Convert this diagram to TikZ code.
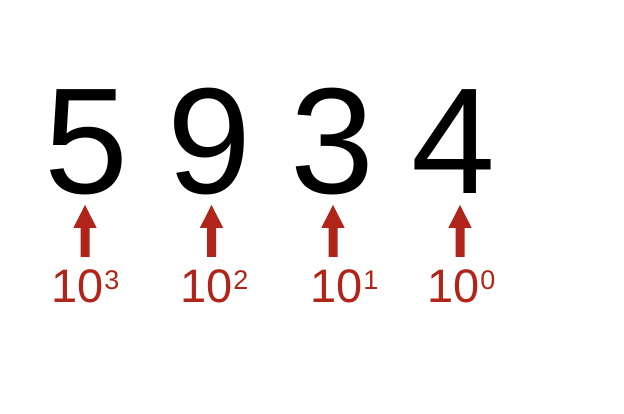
\documentclass[tikz,border=0pt]{standalone}
\usepackage{fontspec}
\setmainfont{Liberation Sans}
\definecolor{arrred}{RGB}{176,36,26}
\tikzset{
  digit/.style={inner sep=0pt, anchor=base, font=\fontsize{151}{151}\selectfont, text=black},
  pow/.style={inner sep=0pt, anchor=base west, text=arrred, font=\fontsize{47}{47}\selectfont},
  uparrow/.style={fill=arrred, draw=none}
}
\newcommand{\upar}[1]{%
  \fill[uparrow] (#1-11.7,228) -- (#1,205) -- (#1+11.7,228) -- (#1+4.5,228) -- (#1+4.5,257) -- (#1-4.5,257) -- (#1-4.5,228) -- cycle;}
\newcommand{\powlabel}[1]{10\kern1pt\raisebox{13pt}{\fontsize{27}{27}\selectfont #1}}
\begin{document}
\begin{tikzpicture}[x=1pt,y=-1pt]
\useasboundingbox (0,0) rectangle (624,414);
\node[digit] (d5) at (86,194) {5};
\node[digit] (d9) at (209.5,194) {9};
\node[digit] (d3) at (332.5,194) {3};
\node[digit] (d4) at (453,194) {4};
\upar{85}
\upar{211.5}
\upar{333}
\upar{460}
\node[pow] (p3) at (51,302) {\powlabel{3}};
\node[pow] (p2) at (180,302) {\powlabel{2}};
\node[pow] (p1) at (310,302) {\powlabel{1}};
\node[pow] (p0) at (427,302) {\powlabel{0}};
\end{tikzpicture}
\end{document}
